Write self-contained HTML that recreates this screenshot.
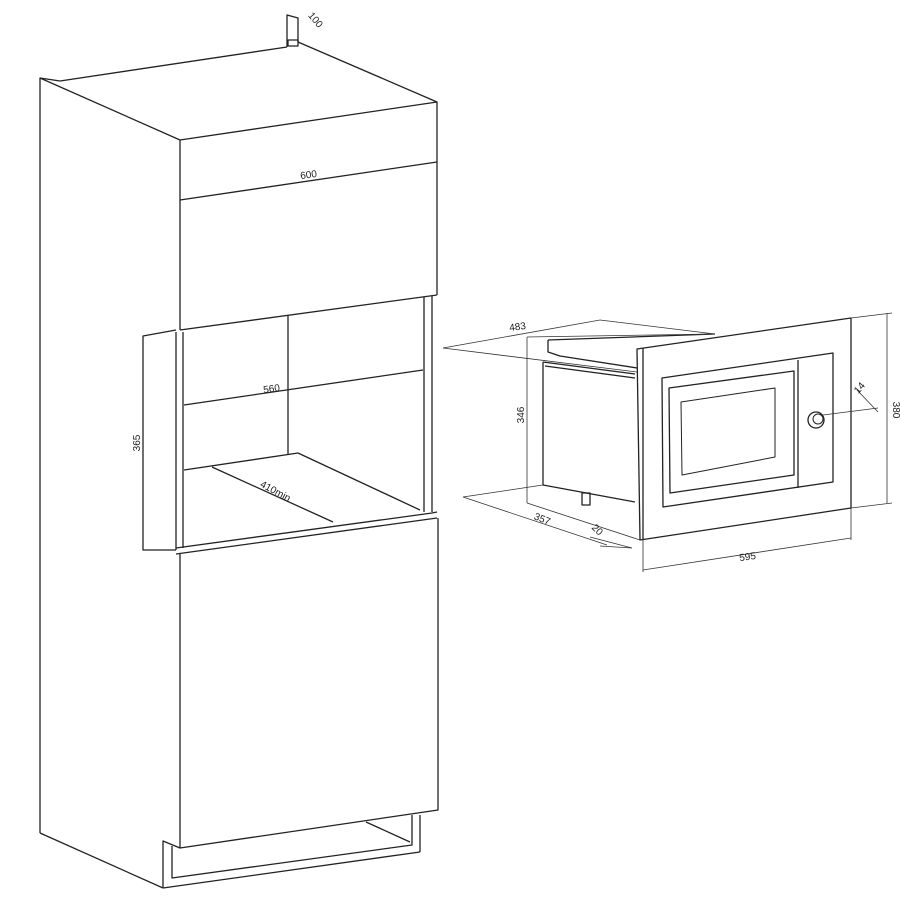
<!DOCTYPE html>
<html><head><meta charset="utf-8"><style>
html,body{margin:0;padding:0;background:#fff;}
svg{display:block}
text{font-family:"Liberation Sans Narrow","Liberation Sans",sans-serif;font-size:10px;fill:#222;}
</style></head><body>
<svg width="900" height="900" viewBox="0 0 900 900" xmlns="http://www.w3.org/2000/svg">
<g fill="none" stroke="#222" stroke-width="1.3" stroke-linejoin="round">
<polyline points="40,833 40,78 180,140 437,102 298,42"/>
<polyline points="40,78 60,81 287,47"/>
<line x1="437" y1="102" x2="437" y2="295"/>
<line x1="180" y1="140" x2="180" y2="330"/>
<line x1="180" y1="200" x2="437" y2="162"/>
<line x1="180" y1="330" x2="437" y2="295"/>
<polyline points="287,47 287,15 298,18 298,42"/>
<rect x="288" y="40" width="10" height="6"/>
<line x1="176" y1="332" x2="176" y2="550"/>
<line x1="183" y1="332" x2="183" y2="548"/>
<line x1="424" y1="297" x2="424" y2="512"/>
<line x1="432" y1="296" x2="432" y2="512"/>
<line x1="288" y1="316" x2="288" y2="455"/>
<line x1="184" y1="405" x2="423" y2="370"/>
<polyline points="184,470 298,453 420,510"/>
<polyline points="212,467 333,522"/>
<polyline points="176,548 432,513 437,512"/>
<line x1="176" y1="554" x2="437" y2="518"/>
<polyline points="176,330 143,336 143,550 176,550"/>
<polyline points="180,554 180,848 438,810 438,518"/>
<polyline points="163,888 163,841 180,848"/>
<polyline points="172,846 172,878 412,845 412,815"/>
<line x1="163" y1="888" x2="420" y2="852"/>
<line x1="420" y1="852" x2="420" y2="815"/>
<line x1="366" y1="822" x2="410" y2="842"/>
<line x1="40" y1="833" x2="163" y2="888"/>
<polyline points="548,340 548,352 560,356 637,368"/>
<line x1="548" y1="340" x2="715" y2="334"/>
<polyline points="543,362 635,374"/>
<polyline points="543,362 543,485 635,502"/>
<line x1="545" y1="366" x2="635" y2="378"/>
<rect x="582" y="493" width="8" height="12"/>
<polygon points="637,349 851,318 851,508 640,540"/>
<line x1="643" y1="348" x2="643" y2="539"/>
<polygon points="662,378 833,353 833,482 663,507"/>
<line x1="798" y1="360" x2="798" y2="488"/>
<polygon points="669,388 794,371 794,475 670,493"/>
<polygon points="681,402 775,388 775,457 682,475" stroke-width="1"/>
<circle cx="816" cy="420" r="8"/>
<circle cx="818" cy="419" r="5" stroke-width="1"/>
</g>
<g fill="none" stroke="#333" stroke-width="0.8">
<polyline points="443,348 600,320 715,334"/>
<line x1="443" y1="348" x2="637" y2="372"/>
<line x1="527" y1="337" x2="715" y2="334"/>
<line x1="527" y1="337" x2="527" y2="503"/>
<line x1="463" y1="497" x2="543" y2="485"/>
<line x1="463" y1="497" x2="607" y2="545"/>
<line x1="527" y1="503" x2="640" y2="540"/>
<line x1="600" y1="546" x2="632" y2="548"/>
<line x1="590" y1="537" x2="632" y2="548"/>
<line x1="643" y1="540" x2="643" y2="572"/>
<line x1="851" y1="508" x2="851" y2="540"/>
<line x1="643" y1="570" x2="851" y2="538"/>
<line x1="851" y1="318" x2="892" y2="313"/>
<line x1="851" y1="508" x2="892" y2="503"/>
<line x1="887" y1="313" x2="887" y2="503"/>
<line x1="823" y1="415" x2="878" y2="408"/>
<line x1="857" y1="390" x2="878" y2="412"/>
</g>
<text transform="translate(313,22) rotate(50)" text-anchor="middle">100</text>
<text transform="translate(309,178) rotate(-8)" text-anchor="middle">600</text>
<text transform="translate(272,392) rotate(-8)" text-anchor="middle">560</text>
<text transform="translate(274,494) rotate(28)" text-anchor="middle">410min</text>
<text transform="translate(140,443) rotate(-90)" text-anchor="middle">365</text>
<text transform="translate(518,330) rotate(-8)" text-anchor="middle">483</text>
<text transform="translate(524,415) rotate(-90)" text-anchor="middle">346</text>
<text transform="translate(541,522) rotate(22)" text-anchor="middle">357</text>
<text transform="translate(595,532) rotate(45)" text-anchor="middle">20</text>
<text transform="translate(748,560) rotate(-8)" text-anchor="middle">595</text>
<text transform="translate(893,410) rotate(90)" text-anchor="middle">380</text>
<text transform="translate(862,390) rotate(-50)" text-anchor="middle">14</text>
</svg>
</body></html>
